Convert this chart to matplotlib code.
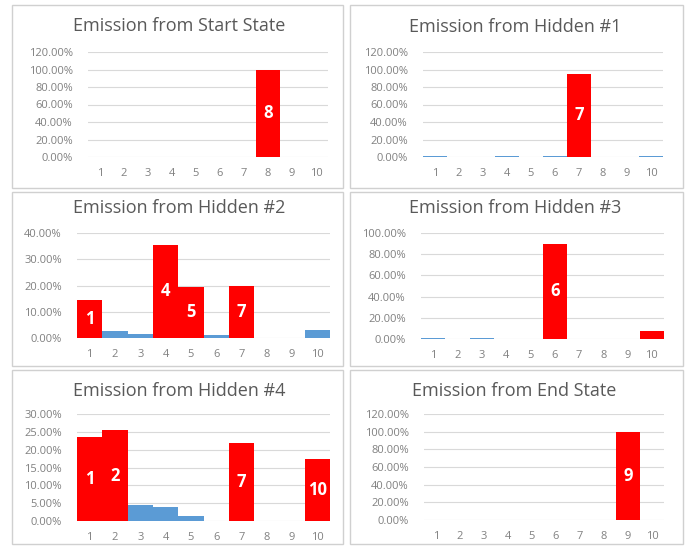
import numpy as np
import matplotlib.pyplot as plt
from matplotlib.patches import Rectangle
from matplotlib.ticker import PercentFormatter

plt.rcParams['font.family'] = ['Open Sans', 'DejaVu Sans']

symbols = list(range(1, 11))

titles = [
    "Emission from Start State", "Emission from Hidden #1",
    "Emission from Hidden #2", "Emission from Hidden #3",
    "Emission from Hidden #4", "Emission from End State",
]

# emission probabilities (fraction) for symbols 1..10
start_state = [0, 0, 0, 0, 0, 0, 0, 1.00, 0, 0]
hidden_1 = [0.008, 0.002, 0.002, 0.015, 0.002, 0.008, 0.95, 0.002, 0.002, 0.008]
hidden_2 = [0.145, 0.025, 0.015, 0.355, 0.195, 0.01, 0.20, 0, 0, 0.03]
hidden_3 = [0.008, 0.002, 0.008, 0.002, 0.002, 0.90, 0.002, 0.002, 0.002, 0.075]
hidden_4 = [0.235, 0.255, 0.045, 0.04, 0.015, 0, 0.22, 0, 0, 0.175]
end_state = [0, 0, 0, 0, 0, 0, 0, 0, 1.00, 0]

# symbols called out (red, labelled) in each panel
highlight = [[8], [7], [1, 4, 5, 7], [6, 10], [1, 2, 7, 10], [9]]
labelled = [[8], [7], [1, 4, 5, 7], [6], [1, 2, 7, 10], [9]]

y_max = [1.2, 1.2, 0.4, 1.0, 0.3, 1.2]
y_step = [0.2, 0.2, 0.1, 0.2, 0.05, 0.2]

series = [start_state, hidden_1, hidden_2, hidden_3, hidden_4, end_state]

W, H = 694, 546
fig = plt.figure(figsize=(W / 100, H / 100), dpi=100)

# pixel boxes: panel frame (x0, y0, x1, y1), plot area (x0, x1, ytop, ybottom), title (x, y)
frames = [(12, 5, 343, 188), (350, 5, 683, 188),
          (12, 192, 343, 366), (350, 192, 683, 366),
          (12, 370, 343, 544), (350, 370, 683, 544)]
areas = [(88, 328, 52, 157), (423, 663, 52, 157),
         (77, 330, 233, 338), (421, 664, 233, 339),
         (77, 330, 414, 521), (424, 664, 414, 520)]
title_pos = [(179, 26), (515, 27), (179, 208), (515, 208), (179, 391), (514, 391)]

grid_c = "#D9D9D9"
red = "#FF0000"
blue = "#5B9BD5"

for i in range(6):
    fx0, fy0, fx1, fy1 = frames[i]
    fig.add_artist(Rectangle((fx0 / W, 1 - fy1 / H), (fx1 - fx0) / W, (fy1 - fy0) / H,
                             transform=fig.transFigure, fill=False,
                             edgecolor="#D0D0D0", linewidth=1.0))
    ax0, ax1, yt, yb = areas[i]
    ax = fig.add_axes([ax0 / W, 1 - yb / H, (ax1 - ax0) / W, (yb - yt) / H])

    vals = series[i]
    colors = [red if s in highlight[i] else blue for s in symbols]
    bars = ax.bar(symbols, vals, width=1.0, color=colors, zorder=3)
    for s, b in zip(symbols, bars):
        if s in labelled[i]:
            ax.text(b.get_x() + b.get_width() / 2, b.get_height() / 2, str(s),
                    ha="center", va="center", color="white",
                    fontsize=12, fontweight="bold", zorder=4)

    ax.set_xlim(0.5, 10.5)
    ax.set_ylim(0, y_max[i])
    ax.set_yticks(np.arange(0, y_max[i] + 1e-9, y_step[i]))
    ax.yaxis.set_major_formatter(PercentFormatter(1.0, decimals=2))
    ax.set_xticks(symbols)
    ax.grid(axis="y", color=grid_c, linewidth=0.8, zorder=0)
    for sp in ax.spines.values():
        sp.set_visible(False)
    ax.tick_params(length=0, labelsize=8, colors="#808080")
    ax.tick_params(axis="y", pad=11)
    ax.tick_params(axis="x", pad=8)

    tx, ty = title_pos[i]
    fig.text(tx / W, 1 - ty / H, titles[i], ha="center", va="center",
             fontsize=13, color="#595959")

fig.savefig("out.png", dpi=100)
